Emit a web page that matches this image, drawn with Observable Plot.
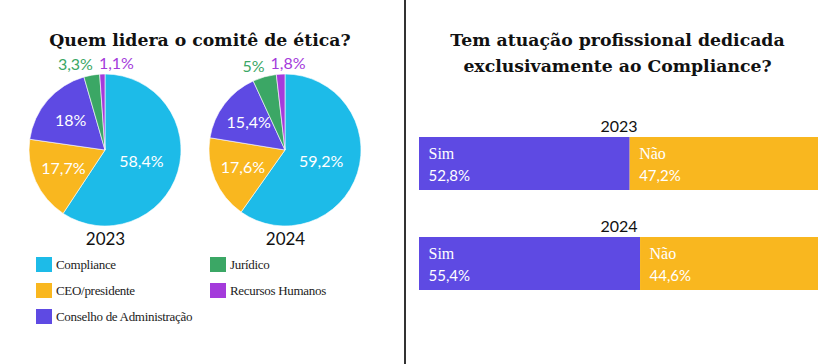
<!DOCTYPE html>
<html><head><meta charset="utf-8">
<script src="https://cdn.jsdelivr.net/npm/d3@7"></script>
<script src="https://cdn.jsdelivr.net/npm/@observablehq/plot@0.6"></script>
<style>
body{margin:0;background:#fff;}
#root{position:relative;width:827px;height:364px;overflow:hidden;font-family:Lato,sans-serif;color:#111;}
.title{position:absolute;text-align:center;font-family:"DejaVu Serif",serif;font-weight:bold;font-size:17.3px;color:#111;}
.leg{position:absolute;font-family:"Liberation Serif",serif;font-size:13px;letter-spacing:-0.3px;color:#222;white-space:nowrap;}
.sw{position:absolute;width:16px;height:15px;}
</style></head>
<body><div id="root"></div>
<script>
// ---- data ----
const categories = ["Compliance", "CEO/presidente", "Conselho de Administração", "Jurídico", "Recursos Humanos"];
const categoryColors = ["#1dbbe8", "#f9b71f", "#5e4ae3", "#3ba765", "#a43bdb"];
const years = ["2023", "2024"];
const leader2023 = [58.4, 17.7, 18, 3.3, 1.1];
const leader2024 = [59.2, 17.6, 15.4, 5, 1.8];
const answers = ["Sim", "Não"];
const answerColors = ["#5e4ae3", "#f9b71f"];
const dedicated2023 = [52.8, 47.2];
const dedicated2024 = [55.4, 44.6];

const fmt = v => String(v).replace(".", ",") + "%";
const root = document.getElementById("root");

function addDiv(cls, text, css) {
  const d = document.createElement("div");
  if (cls) d.className = cls;
  if (text != null) d.textContent = text;
  Object.assign(d.style, css);
  root.appendChild(d);
  return d;
}

// divider
addDiv(null, null, {position: "absolute", left: "404px", top: "0px", width: "1.5px", height: "364px", background: "#333"});

// titles
addDiv("title", "Quem lidera o comitê de ética?", {left: "0px", width: "400px", top: "28px", lineHeight: "24px"});
const t2 = addDiv("title", null, {left: "408px", width: "419px", top: "28px", lineHeight: "25.5px"});
t2.innerHTML = "Tem atuação profissional dedicada<br>exclusivamente ao Compliance?";

// ---- custom pie mark ----
class Pie extends Plot.Mark {
  constructor(data, {x, fill, share, radius = 76, ...options} = {}) {
    super(data, {
      x: {value: x, scale: "x"},
      fill: {value: fill, scale: "color"},
      share: {value: share}
    }, options);
    this.radius = radius;
  }
  render(index, scales, channels, dimensions) {
    const {x: X, fill: F, share: S} = channels;
    const {height, marginTop, marginBottom} = dimensions;
    const cy = marginTop + (height - marginTop - marginBottom) / 2;
    const r = this.radius;
    const g = d3.create("svg:g");
    const ctx = document.createElement("canvas").getContext("2d");
    ctx.font = "16px Lato";
    const arc = d3.arc().innerRadius(0).outerRadius(r);
    for (const [cx, idx] of d3.group(index, i => X[i])) {
      const arcs = d3.pie().sort(null).value(i => S[i])(idx);
      const pg = g.append("g").attr("transform", `translate(${cx},${cy})`);
      pg.selectAll("path").data(arcs).join("path")
        .attr("d", arc).attr("fill", a => F[a.data])
        .attr("stroke", "#fff").attr("stroke-width", 0.6);
      const mid = a => (a.startAngle + a.endAngle) / 2;
      for (const a of arcs.filter(a => S[a.data] > 5)) {
        const lr = S[a.data] > 50 ? 0.5 * r : 0.6 * r;
        pg.append("text").attr("x", lr * Math.sin(mid(a))).attr("y", -lr * Math.cos(mid(a)))
          .attr("dy", "0.35em").attr("text-anchor", "middle").attr("fill", "#fff")
          .text(fmt(S[a.data]));
      }
      const R = r + 11;
      const labs = arcs.filter(a => S[a.data] <= 5).map(a => {
        const t = fmt(S[a.data]);
        return {a, t, x: R * Math.sin(mid(a)), y: -R * Math.cos(mid(a)), w: ctx.measureText(t).width};
      }).sort((p, q) => p.x - q.x);
      for (let k = 0; k < 20; k++) {
        for (let j = 1; j < labs.length; j++) {
          const p = labs[j - 1], q = labs[j];
          const ov = (p.w + q.w) / 2 + 6 - (q.x - p.x);
          if (ov > 0) { p.x -= ov / 2; q.x += ov / 2; }
        }
      }
      for (const l of labs) {
        pg.append("text").attr("x", l.x).attr("y", l.y).attr("dy", "0.35em")
          .attr("text-anchor", "middle").attr("fill", F[l.a.data]).text(l.t);
      }
    }
    return g.node();
  }
}

const leaderRows = years.flatMap((y, yi) => categories.map((c, ci) => ({
  year: y, category: c, share: [leader2023, leader2024][yi][ci]
})));

const pies = Plot.plot({
  width: 405, height: 200,
  marginLeft: 15, marginRight: 30, marginTop: 25, marginBottom: 25,
  style: {fontFamily: "Lato, sans-serif", fontSize: "16px", background: "transparent"},
  x: {type: "point", domain: years, padding: 0.5, axis: null},
  color: {domain: categories, range: categoryColors},
  marks: [
    new Pie(leaderRows, {x: "year", fill: "category", share: "share"}),
    Plot.text(years, {x: d => d, text: d => d, frameAnchor: "bottom", dy: 19, fontSize: 17, fill: "#111"})
  ]
});
Object.assign(pies.style, {position: "absolute", left: "0px", top: "50px"});
root.appendChild(pies);

// legend (column-major, 3 rows)
categories.forEach((c, i) => {
  const col = Math.floor(i / 3), row = i % 3;
  const sx = col === 0 ? 36 : 210;
  const sy = 257 + row * 26;
  addDiv("sw", null, {left: sx + "px", top: sy + "px", background: categoryColors[i]});
  addDiv("leg", c, {left: (sx + 20) + "px", top: (sy - 1) + "px", lineHeight: "17px"});
});

// ---- stacked bars ----
const dedicatedRows = years.flatMap((y, yi) => answers.map((a, ai) => ({
  year: y, answer: a, value: [dedicated2023, dedicated2024][yi][ai]
})));

const bars = Plot.plot({
  width: 417, height: 200,
  marginLeft: 9, marginRight: 9, marginTop: 36, marginBottom: 9,
  style: {fontFamily: "Lato, sans-serif", fontSize: "15px", background: "transparent"},
  x: {domain: [0, 100], axis: null},
  y: {domain: years, axis: null, paddingInner: 0.465, paddingOuter: 0},
  color: {domain: answers, range: answerColors},
  marks: [
    Plot.barX(dedicatedRows, {x: "value", y: "year", fill: "answer"}),
    Plot.text(dedicatedRows, Plot.stackX1({x: "value", y: "year", text: "answer",
      textAnchor: "start", dx: 9, dy: -10, fill: "#fff", fontFamily: "Liberation Serif, serif", fontSize: 16})),
    Plot.text(dedicatedRows, Plot.stackX1({x: "value", y: "year", text: d => fmt(d.value),
      textAnchor: "start", dx: 9, dy: 12.5, fill: "#fff", fontSize: 15})),
    Plot.text(years, {x: () => 50, y: d => d, text: d => d, dy: -37, fill: "#111", fontSize: 16})
  ]
});
Object.assign(bars.style, {position: "absolute", left: "410px", top: "100px"});
root.appendChild(bars);
</script>
</body></html>
